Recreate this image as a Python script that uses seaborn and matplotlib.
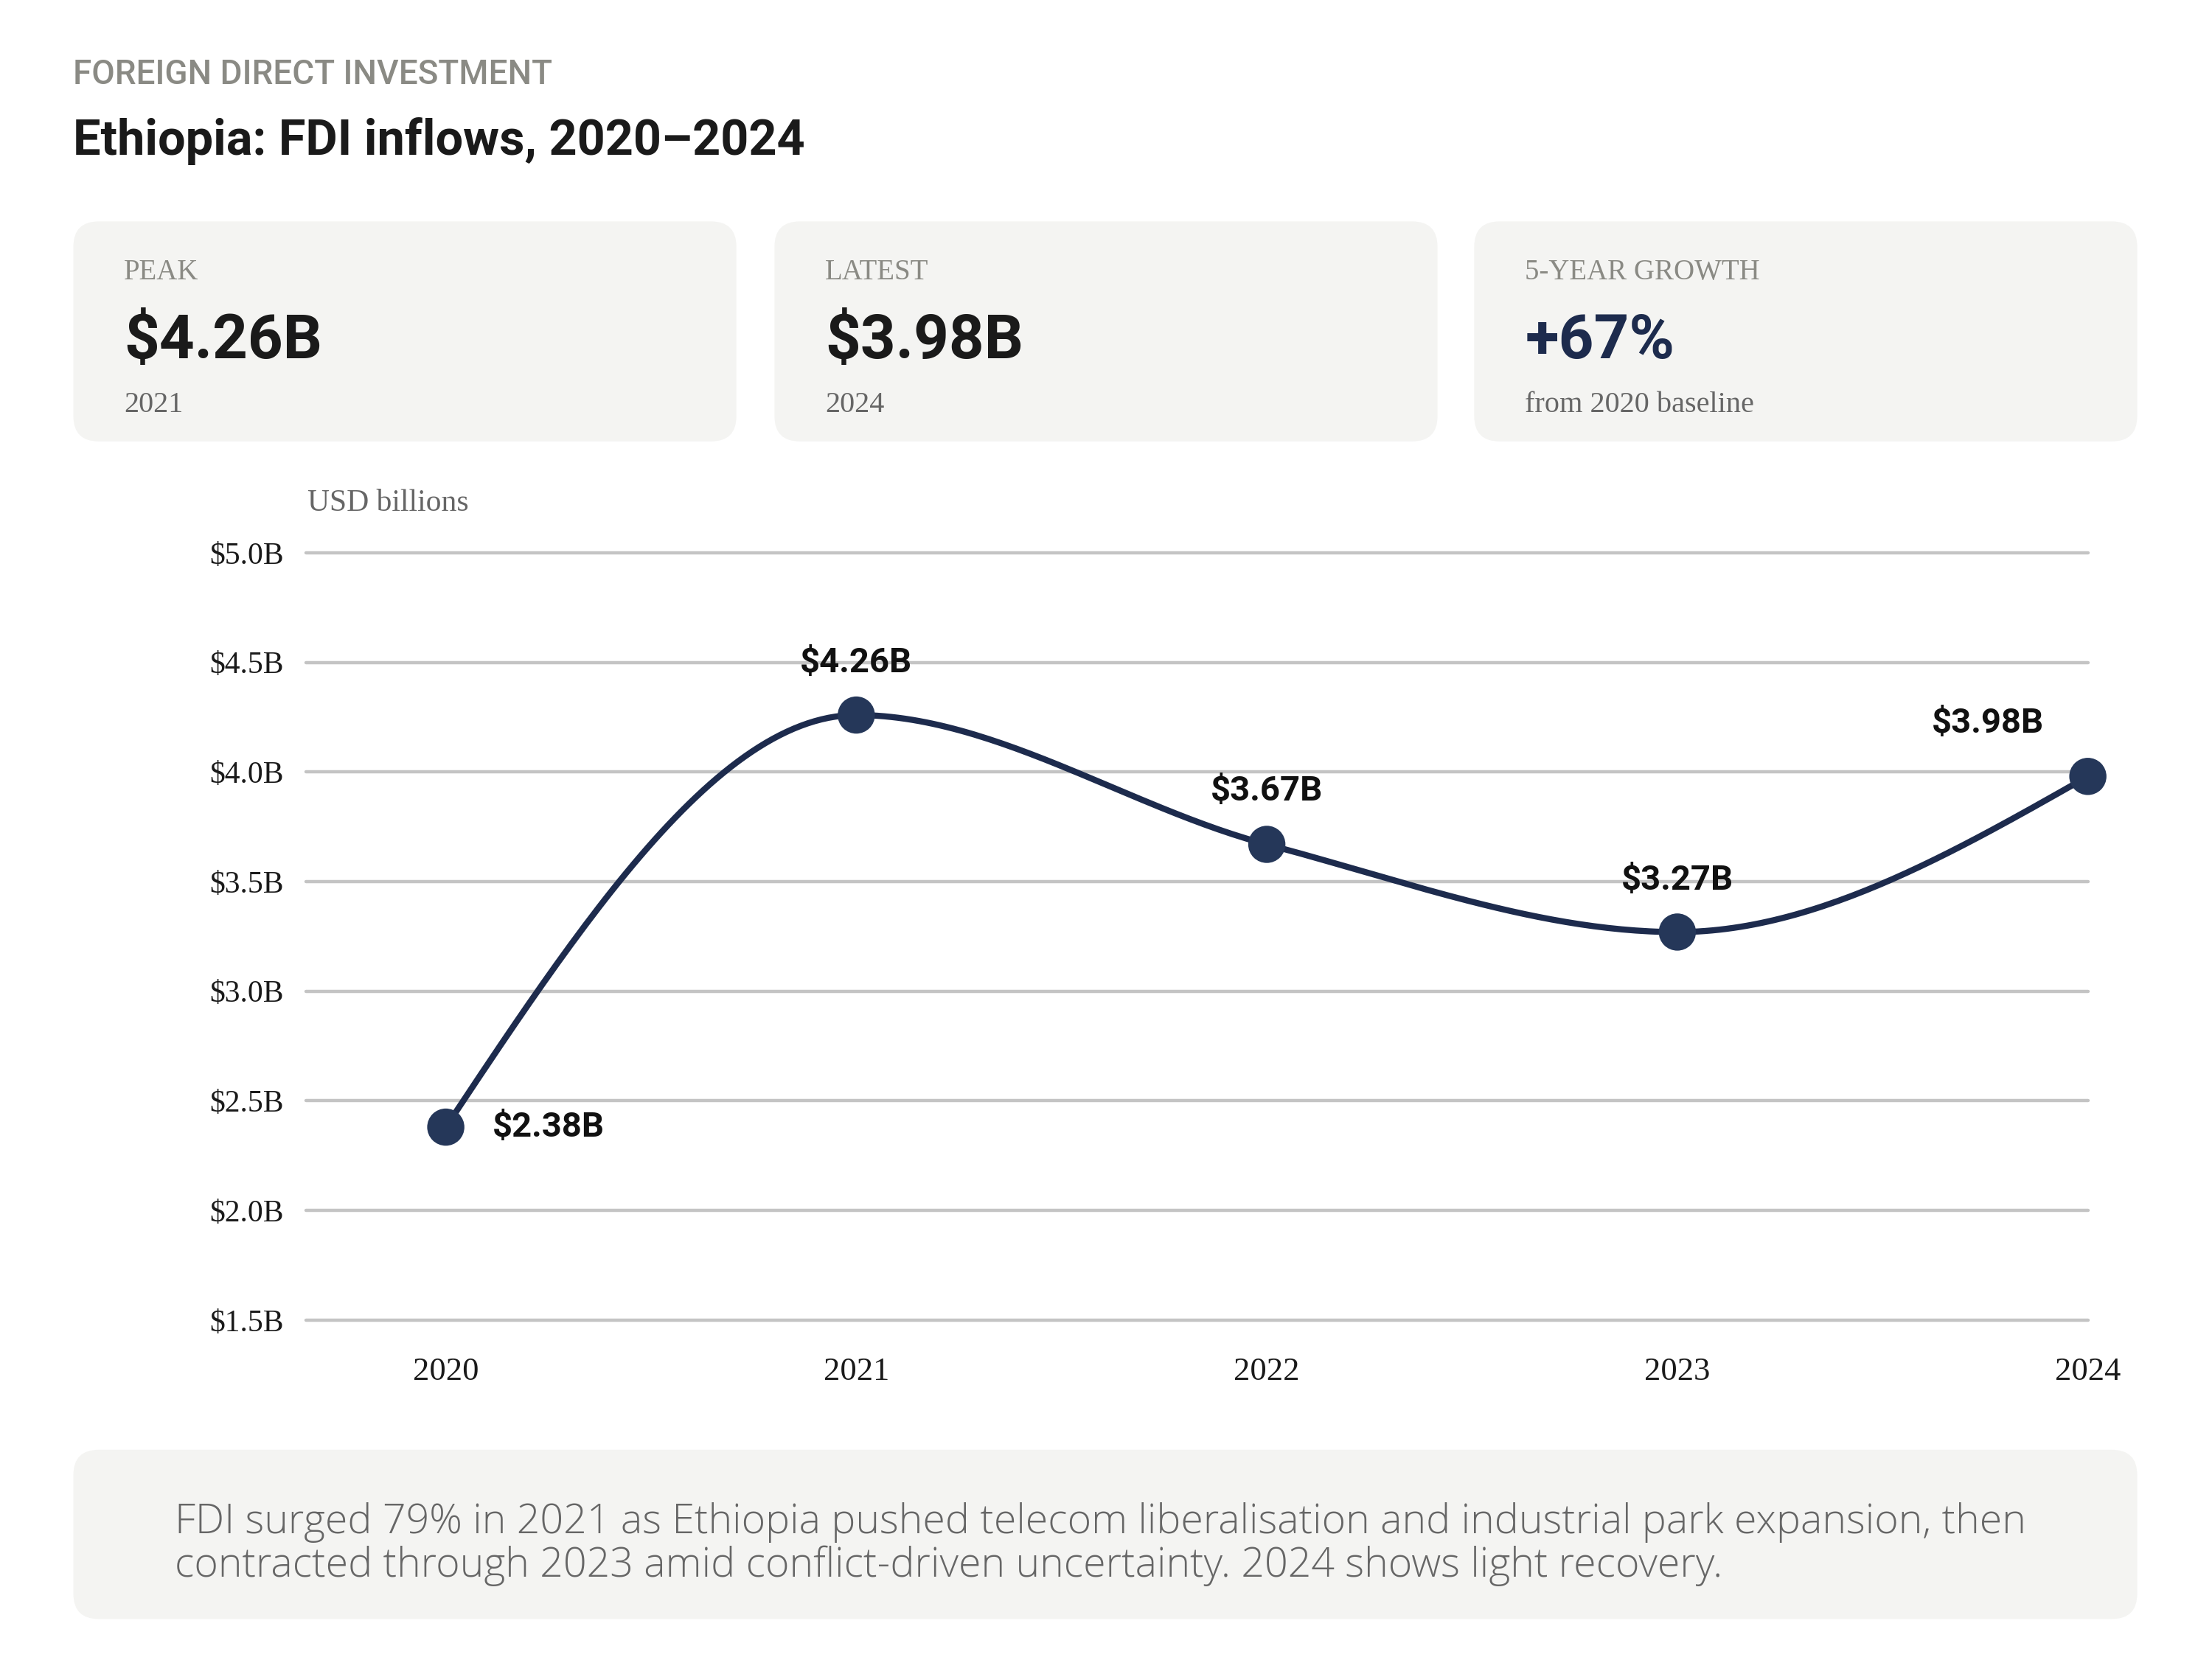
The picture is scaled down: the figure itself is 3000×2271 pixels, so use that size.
import numpy as np
import pandas as pd
import matplotlib
matplotlib.use("Agg")
import matplotlib.pyplot as plt
import seaborn as sns
from matplotlib.patches import FancyBboxPatch

# Data
years = [2020, 2021, 2022, 2023, 2024]
fdi_values = [2.38, 4.26, 3.67, 3.27, 3.98]
y_ticks = [1.5, 2.0, 2.5, 3.0, 3.5, 4.0, 4.5, 5.0]
card_labels = ["PEAK", "LATEST", "5-YEAR GROWTH"]
card_values = ["$4.26B", "$3.98B", "+67%"]
card_subs = ["2021", "2024", "from 2020 baseline"]

NAVY = "#1d2b4d"
DOT = "#253759"
GREY_TXT = "#8a8a84"
CARD_BG = "#f4f4f2"
SANS = "Roboto"
SERIF = "Liberation Serif"

sns.set_theme(style="white")
plt.rcParams["font.family"] = [SANS, "DejaVu Sans"]

df = pd.DataFrame({"year": years, "fdi": fdi_values})


def monotone_curve(x, y, n=60):
    # d3 curveMonotoneX style smoothing, used only for drawing the line
    x = np.asarray(x, float)
    y = np.asarray(y, float)
    h = np.diff(x)
    s = np.diff(y) / h
    t = np.zeros(len(x))
    for i in range(1, len(x) - 1):
        p = (s[i - 1] * h[i] + s[i] * h[i - 1]) / (h[i - 1] + h[i])
        t[i] = (np.sign(s[i - 1]) + np.sign(s[i])) * min(abs(s[i - 1]), abs(s[i]), 0.5 * abs(p))
    t[0] = (3 * s[0] - t[1]) / 2
    t[-1] = (3 * s[-1] - t[-2]) / 2
    xs, ys = [], []
    for i in range(len(x) - 1):
        dx = h[i]
        u = np.linspace(0, 1, n)
        p0 = np.array([x[i], y[i]])
        p1 = np.array([x[i] + dx / 3, y[i] + dx * t[i] / 3])
        p2 = np.array([x[i + 1] - dx / 3, y[i + 1] - dx * t[i + 1] / 3])
        p3 = np.array([x[i + 1], y[i + 1]])
        b = ((1 - u) ** 3)[:, None] * p0 + (3 * (1 - u) ** 2 * u)[:, None] * p1 \
            + (3 * (1 - u) * u ** 2)[:, None] * p2 + (u ** 3)[:, None] * p3
        xs.extend(b[:, 0])
        ys.extend(b[:, 1])
    return np.array(xs), np.array(ys)


W, H = 1568, 1187
fig = plt.figure(figsize=(15, 15 * 2271 / 3000), dpi=200)
fig.patch.set_facecolor("white")

# overlay axes in "design pixels"
bg = fig.add_axes([0, 0, 1, 1])
bg.set_xlim(0, W)
bg.set_ylim(H, 0)
bg.axis("off")

bg.text(52, 53, "FOREIGN DIRECT INVESTMENT", fontsize=16.5, fontweight="medium",
        color=GREY_TXT, va="center", ha="left", family=[SANS, "DejaVu Sans"])
bg.text(52, 100, "Ethiopia: FDI inflows, 2020\u20132024", fontsize=24, fontweight="bold",
        color="#1a1a1a", va="center", ha="left")

card_x = [52, 549, 1045]
card_w = 470
for i in range(3):
    bg.add_patch(FancyBboxPatch((card_x[i], 157), card_w, 156,
                                boxstyle="round,pad=0,rounding_size=18",
                                facecolor=CARD_BG, edgecolor="none"))
    bg.text(card_x[i] + 36, 193, card_labels[i], fontsize=14, color=GREY_TXT,
            va="center", ha="left", family=SERIF)
    bg.text(card_x[i] + 36, 242, card_values[i], fontsize=30, fontweight="bold",
            color=NAVY if i == 2 else "#1a1a1a", va="center", ha="left")
    bg.text(card_x[i] + 36, 287, card_subs[i], fontsize=14.5, color="#666666",
            va="center", ha="left", family=SERIF)

bg.add_patch(FancyBboxPatch((52, 1028), 1463, 120,
                            boxstyle="round,pad=0,rounding_size=18",
                            facecolor=CARD_BG, edgecolor="none"))
bg.text(124, 1095,
        "FDI surged 79% in 2021 as Ethiopia pushed telecom liberalisation and industrial park expansion, then\n"
        "contracted through 2023 amid conflict-driven uncertainty. 2024 shows light recovery.",
        fontsize=20, fontweight="light", color="#666666", va="center", ha="left",
        linespacing=1.07, family=["Open Sans", "DejaVu Sans"])

bg.text(218, 357, "USD billions", fontsize=15, color="#666666", va="center",
        ha="left", family=SERIF)

# chart axes
left, right, top, bottom = 217, 1480, 392, 936
ax = fig.add_axes([left / W, 1 - bottom / H, (right - left) / W, (bottom - top) / H])
ax.set_facecolor("none")
x0 = 2020 - (316 - 217) / 291.0
ax.set_xlim(x0, 2024)
ax.set_ylim(1.5, 5.0)

for yv in y_ticks:
    ax.axhline(yv, color="#c4c4c4", lw=1.6, zorder=1, clip_on=False)

cx, cy = monotone_curve(df["year"], df["fdi"])
curve = pd.DataFrame({"year": cx, "fdi": cy})
sns.lineplot(data=curve, x="year", y="fdi", ax=ax, color=NAVY, lw=3.0,
             sort=False, zorder=3, clip_on=False, estimator=None)
sns.scatterplot(data=df, x="year", y="fdi", ax=ax, s=330, color=DOT,
                edgecolor="none", zorder=4, clip_on=False)

offsets = {2020: (22.7, 0, "left"), 2021: (0, 25.5, "center"),
           2022: (0, 26, "center"), 2023: (0, 25.5, "center"),
           2024: (-49, 26, "center")}
for yr, v in zip(years, fdi_values):
    dx, dy, ha = offsets[yr]
    ax.annotate(f"${v:.2f}B", (yr, v), xytext=(dx, dy), textcoords="offset points",
                ha=ha, va="center", fontsize=17, fontweight="bold", color="#111111",
                zorder=5)

ax.set_yticks(y_ticks)
ax.set_yticklabels([f"${t:.1f}B" for t in y_ticks], family=SERIF, fontsize=15,
                   color="#1a1a1a")
ax.set_xticks(years)
ax.set_xticklabels([str(y) for y in years], family=SERIF, fontsize=16, color="#1a1a1a")
ax.tick_params(axis="y", length=0, pad=11)
ax.tick_params(axis="x", length=0, pad=18)
ax.set_xlabel("")
ax.set_ylabel("")
sns.despine(ax=ax, left=True, bottom=True)
ax.grid(False)

fig.savefig("out.png", dpi=200, facecolor="white")
